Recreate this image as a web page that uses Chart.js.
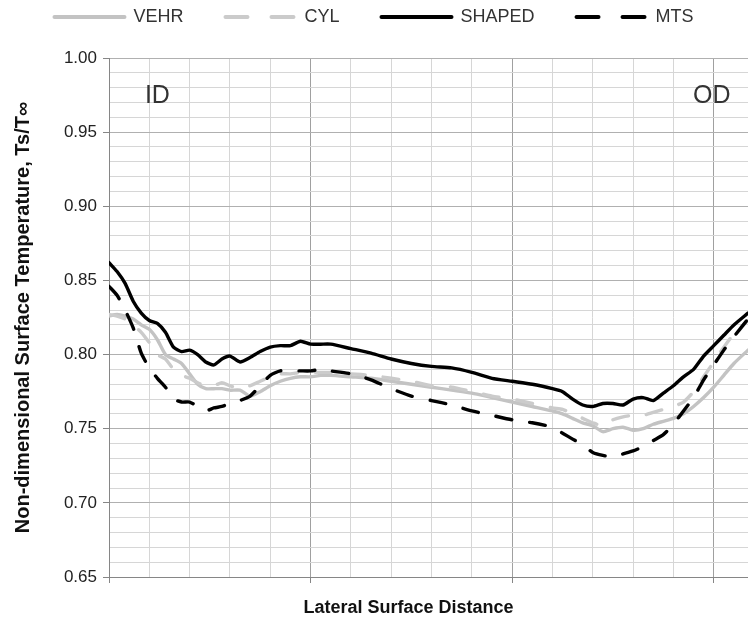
<!DOCTYPE html>
<html>
<head>
<meta charset="utf-8">
<title>Non-dimensional surface temperature</title>
<script src="https://cdn.jsdelivr.net/npm/chart.js@4.4.1/dist/chart.umd.min.js"></script>
<style>
    html, body { margin: 0; padding: 0; background: #fff; }
    #chart-box { width: 748px; height: 625px; }
</style>
</head>
<body>
<div id="chart-box"><canvas id="temp-chart" width="748" height="625"></canvas></div>
<script>
// lateral surface distance (major gridline = 1 unit)
const distance = [
    0, 0.04, 0.08, 0.12, 0.16, 0.2, 0.24, 0.28, 0.32, 0.36,
    0.4, 0.44, 0.48, 0.52, 0.56, 0.6, 0.65, 0.7, 0.75, 0.8,
    0.85, 0.9, 0.95, 1.0, 1.05, 1.1, 1.2, 1.3, 1.4, 1.5,
    1.6, 1.7, 1.8, 1.9, 2.0, 2.1, 2.2, 2.25, 2.3, 2.35,
    2.4, 2.45, 2.5, 2.55, 2.6, 2.65, 2.7, 2.75, 2.8, 2.85,
    2.9, 2.95, 3.0, 3.05, 3.1, 3.17
];

const vehr = [
    0.826, 0.827, 0.826, 0.824, 0.820, 0.817, 0.810, 0.800, 0.797, 0.794,
    0.787, 0.780, 0.777, 0.777, 0.777, 0.776, 0.776, 0.772, 0.775, 0.779,
    0.782, 0.784, 0.785, 0.785, 0.786, 0.786, 0.785, 0.784, 0.782, 0.780,
    0.778, 0.776, 0.774, 0.771, 0.768, 0.765, 0.762, 0.760, 0.757, 0.754,
    0.752, 0.748, 0.750, 0.751, 0.749, 0.750, 0.753, 0.755, 0.757, 0.760,
    0.765, 0.771, 0.778, 0.786, 0.794, 0.803
];

const cyl = [
    0.827, 0.826, 0.824, 0.820, 0.815, 0.808, 0.800, 0.797, 0.790, 0.786,
    0.784, 0.781, 0.779, 0.779, 0.781, 0.779, 0.777, 0.779, 0.782, 0.785,
    0.787, 0.787, 0.788, 0.788, 0.788, 0.788, 0.787, 0.786, 0.784, 0.782,
    0.779, 0.778, 0.775, 0.772, 0.770, 0.767, 0.764, 0.763, 0.760, 0.757,
    0.754, 0.752, 0.756, 0.758, 0.759, 0.759, 0.761, 0.763, 0.765, 0.768,
    0.775, 0.785, 0.795, 0.805, 0.814, 0.823
];

const shaped = [
    0.862, 0.856, 0.848, 0.836, 0.828, 0.823, 0.821, 0.815, 0.805, 0.802,
    0.803, 0.800, 0.795, 0.793, 0.797, 0.799, 0.795, 0.798, 0.802, 0.805,
    0.806, 0.806, 0.809, 0.807, 0.807, 0.807, 0.804, 0.801, 0.797, 0.794,
    0.792, 0.791, 0.788, 0.784, 0.782, 0.780, 0.777, 0.775, 0.770, 0.766,
    0.765, 0.767, 0.767, 0.766, 0.770, 0.771, 0.769, 0.774, 0.779, 0.785,
    0.790, 0.799, 0.806, 0.813, 0.820, 0.828
];

const mts = [
    0.846, 0.840, 0.830, 0.818, 0.801, 0.791, 0.784, 0.778, 0.770, 0.768,
    0.768, 0.765, 0.762, 0.764, 0.765, 0.767, 0.769, 0.772, 0.779, 0.786,
    0.789, 0.789, 0.789, 0.789, 0.790, 0.789, 0.787, 0.783, 0.777, 0.772,
    0.769, 0.766, 0.762, 0.759, 0.756, 0.754, 0.751, 0.747, 0.743, 0.739,
    0.734, 0.732, 0.731, 0.733, 0.735, 0.738, 0.742, 0.746, 0.753, 0.762,
    0.771, 0.783, 0.793, 0.803, 0.812, 0.824
];

const seriesNames = ['VEHR', 'CYL', 'SHAPED', 'MTS'];
const yTicks = { min: 0.65, max: 1.00, minor: 0.01, major: 0.05 };
const xTicks = { min: 0, max: 3.17, minor: 0.2 };

const sideLabels = [
    { text: 'ID', distance: 0.24, temp: 0.974 },
    { text: 'OD', distance: 2.99, temp: 0.974 }
];

document.addEventListener('DOMContentLoaded', () => {
    const ctx = document.getElementById('temp-chart').getContext('2d');
    const font = '"Liberation Sans", Arial, sans-serif';

    const toPoints = values => values.map((v, i) => ({ x: distance[i], y: v }));
    const isWhole = (v, step) => Math.abs(v / step - Math.round(v / step)) < 1e-6;

    const sideLabelPlugin = {
        id: 'sideLabels',
        afterDatasetsDraw(chart) {
            const { ctx, scales: { x, y } } = chart;
            ctx.save();
            ctx.font = '25px ' + font;
            ctx.fillStyle = '#333';
            ctx.textAlign = 'center';
            ctx.textBaseline = 'middle';
            sideLabels.forEach(l => {
                ctx.fillText(l.text, x.getPixelForValue(l.distance), y.getPixelForValue(l.temp));
            });
            ctx.restore();
        }
    };

    const line = (label, values, color, dashed, order) => ({
        label,
        data: toPoints(values),
        borderColor: color,
        backgroundColor: color,
        borderWidth: 3.4,
        borderDash: dashed ? [16, 18] : [],
        borderCapStyle: 'round',
        pointRadius: 0,
        pointStyle: 'line',
        tension: 0.2,
        order
    });

    // legend samples keep the dash pattern of their line
    const legendLabels = chart => {
        const items = Chart.defaults.plugins.legend.labels.generateLabels(chart);
        return items.map(item => {
            const ds = chart.data.datasets[item.datasetIndex];
            item.lineDash = ds.borderDash.length ? [22, 24] : [];
            item.lineWidth = 4;
            item.lineCap = 'round';
            return item;
        });
    };

    new Chart(ctx, {
        type: 'line',
        data: {
            datasets: [
                line(seriesNames[0], vehr, '#c3c3c3', false, 4),
                line(seriesNames[1], cyl, '#cbcbcb', true, 3),
                line(seriesNames[2], shaped, '#000000', false, 2),
                line(seriesNames[3], mts, '#000000', true, 1)
            ]
        },
        options: {
            responsive: false,
            animation: false,
            devicePixelRatio: 1,
            layout: { padding: { top: -34, left: 0, right: 0, bottom: 0 } },
            plugins: {
                legend: {
                    position: 'top',
                    reverse: true,
                    labels: {
                        usePointStyle: true,
                        pointStyleWidth: 70,
                        padding: 42,
                        color: '#333',
                        font: { family: font, size: 18 },
                        generateLabels: legendLabels
                    }
                },
                // empty title used as a spacer between legend and plot
                title: {
                    display: true,
                    text: '',
                    weight: 500,
                    padding: { top: 0, bottom: 0 },
                    font: { size: 22, lineHeight: 1 }
                },
                tooltip: { enabled: false }
            },
            scales: {
                x: {
                    type: 'linear',
                    min: xTicks.min,
                    max: xTicks.max,
                    afterFit: scale => { scale.height = 48; },
                    ticks: { stepSize: xTicks.minor, includeBounds: false, autoSkip: false, display: false },
                    grid: {
                        color: c => isWhole(c.tick.value, 1) ? '#a0a0a0' : '#d6d6d6',
                        tickColor: c => isWhole(c.tick.value, 1) ? '#868686' : 'rgba(0,0,0,0)',
                        tickLength: 6
                    },
                    border: { color: '#868686' },
                    title: {
                        display: true,
                        // trailing spaces pull the centre left, as in the cropped original
                        text: 'Lateral Surface Distance' + '\u00A0'.repeat(8),
                        color: '#111',
                        font: { family: font, size: 18, weight: 'bold' },
                        padding: { top: 0, bottom: 6 }
                    }
                },
                y: {
                    min: yTicks.min,
                    max: yTicks.max,
                    afterFit: scale => { scale.width = 109; },
                    ticks: {
                        stepSize: yTicks.minor,
                        autoSkip: false,
                        padding: 6,
                        color: '#222',
                        font: { family: font, size: 17 },
                        callback: v => isWhole(v, yTicks.major) ? v.toFixed(2) : ''
                    },
                    grid: {
                        color: c => isWhole(c.tick.value, yTicks.major) ? '#b0b0b0' : '#d6d6d6',
                        tickColor: c => isWhole(c.tick.value, yTicks.major) ? '#868686' : 'rgba(0,0,0,0)',
                        tickLength: 6
                    },
                    border: { color: '#868686' },
                    title: {
                        display: true,
                        text: 'Non-dimensional Surface Temperature, Ts/T\u221E',
                        color: '#111',
                        font: { family: font, size: 20, weight: 'bold' },
                        padding: { top: 11, bottom: 0 }
                    }
                }
            }
        },
        plugins: [sideLabelPlugin]
    });
});
</script>
</body>
</html>
